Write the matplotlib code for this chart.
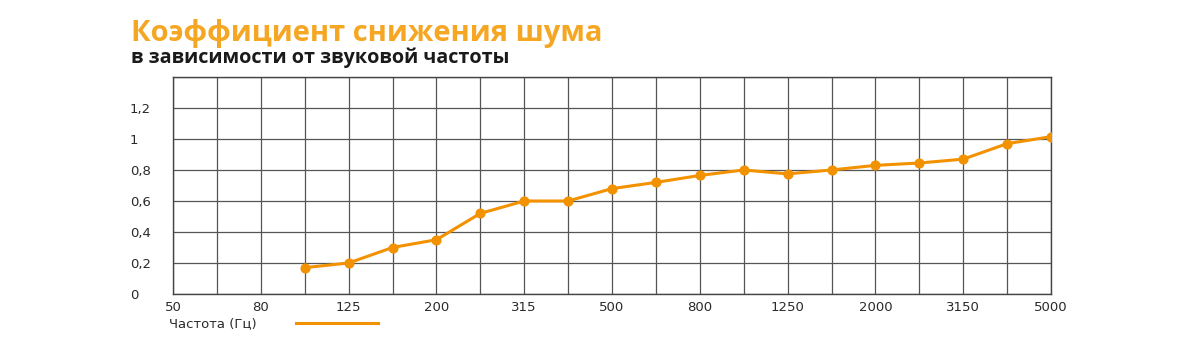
import matplotlib
matplotlib.use("Agg")
import matplotlib.pyplot as plt
from matplotlib.lines import Line2D

# 1/3-octave bands
freqs = ["50", "63", "80", "100", "125", "160", "200", "250", "315", "400", "500",
         "630", "800", "1000", "1250", "1600", "2000", "2500", "3150", "4000", "5000"]
shown_labels = ["50", "80", "125", "200", "315", "500", "800", "1250", "2000", "3150", "5000"]
measured_freqs = ["100", "125", "160", "200", "250", "315", "400", "500", "630", "800",
                  "1000", "1250", "1600", "2000", "2500", "3150", "4000", "5000"]
nrc = [0.17, 0.20, 0.30, 0.35, 0.52, 0.60, 0.60, 0.68, 0.72, 0.765,
       0.80, 0.775, 0.80, 0.83, 0.845, 0.87, 0.97, 1.015]
y_ticks = [0, 0.2, 0.4, 0.6, 0.8, 1.0, 1.2]
y_labels = ["0", "0,2", "0,4", "0,6", "0,8", "1", "1,2"]

title = "Коэффициент снижения шума"
subtitle = "в зависимости от звуковой частоты"
legend_label = "Частота (Гц)"

orange = "#F39200"
title_orange = "#F5A623"
grid_c = "#555555"
plt.rcParams["font.family"] = ["DejaVu Sans"]

fig = plt.figure(figsize=(12, 3.54), dpi=100)
ax = fig.add_axes([173 / 1200, 1 - 294 / 354, 878 / 1200, 217 / 354])

x_pos = list(range(len(freqs)))
xm = [freqs.index(f) for f in measured_freqs]
ax.plot(xm, nrc, color=orange, lw=2.2, marker="o", ms=6.3, zorder=3)

ax.set_xlim(0, len(freqs) - 1)
ax.set_ylim(0, 1.4)
ax.set_xticks(x_pos)
ax.set_xticklabels([f if f in shown_labels else "" for f in freqs])
ax.set_yticks(y_ticks + [1.4])
ax.set_yticklabels(y_labels + [""])
ax.grid(True, color=grid_c, lw=0.9)
ax.set_axisbelow(True)
for s in ax.spines.values():
    s.set_color("#444444")
    s.set_linewidth(1)

ax.tick_params(axis="both", length=0, labelsize=9.5, colors="#2a2a2a")
ax.tick_params(axis="x", pad=5)
ax.tick_params(axis="y", pad=43 * 72 / 100)
for t in ax.get_yticklabels():
    t.set_horizontalalignment("left")

fig.text(131 / 1200, 1 - 41 / 354, title, color=title_orange, fontsize=21,
         fontweight="bold", family="Open Sans", va="baseline")
fig.text(131 / 1200, 1 - 63 / 354, subtitle, color="#1a1a1a", fontsize=14.2,
         fontweight="bold", family="Open Sans", va="baseline")

handle = Line2D([], [], color=orange, lw=2.2)
ax.legend([handle], [legend_label], loc="center left", markerfirst=False,
          bbox_to_anchor=(169 / 1200, 1 - 324 / 354), bbox_transform=fig.transFigure,
          frameon=False, borderpad=0, borderaxespad=0, handlelength=6.2,
          handletextpad=3.0, fontsize=9.5, labelcolor="#2a2a2a")

fig.savefig("out.png", dpi=100)
